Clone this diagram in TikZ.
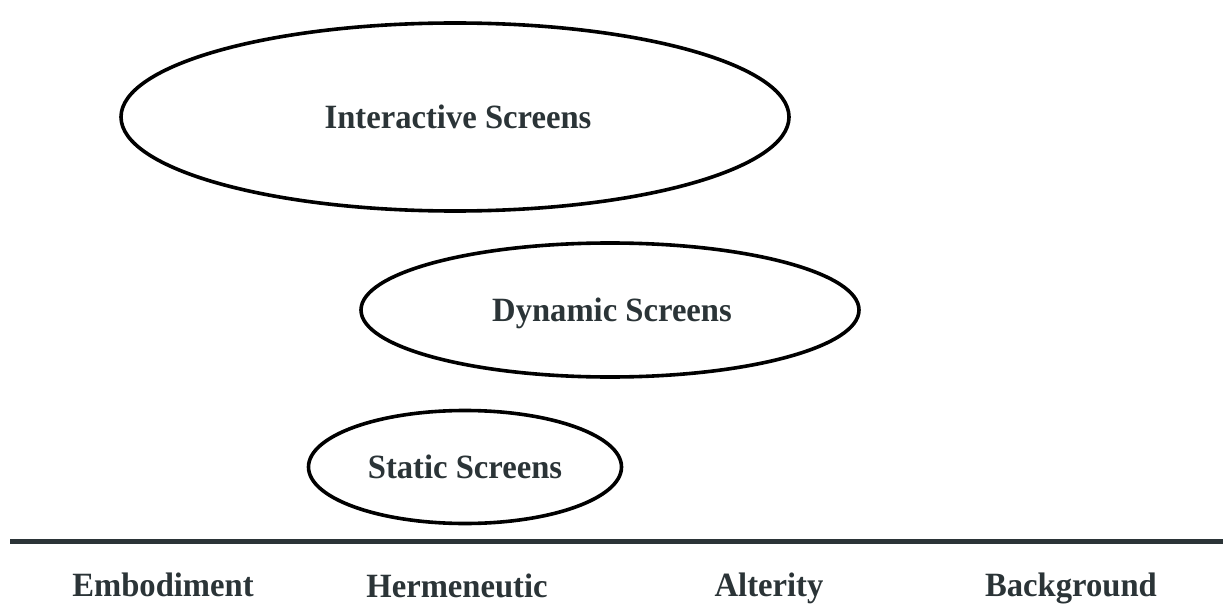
\documentclass[tikz,border=0pt]{standalone}
\usepackage{fontspec}
\setmainfont{Liberation Serif}[FakeStretch=0.96]
\usetikzlibrary{shapes.geometric}
\definecolor{ink}{HTML}{2B3437}
\tikzset{
  screen/.style={draw=black, line width=3.6pt, ellipse, inner sep=0pt},
  lbl/.style={text=ink, font=\bfseries\fontsize{34}{40}\selectfont, inner sep=0pt, anchor=base},
  axis/.style={draw=ink, line width=5pt}
}
\begin{document}
\begin{tikzpicture}[x=1pt,y=-1pt]
\useasboundingbox (0,0) rectangle (1223,604);
\node[screen, minimum width=668pt, minimum height=188pt] (inter) at (455,117) {};
\node[lbl] (interT) at (458,129) {Interactive Screens};
\node[screen, minimum width=498pt, minimum height=134pt] (dyn) at (610,310) {};
\node[lbl] (dynT) at (612,321) {Dynamic Screens};
\node[screen, minimum width=313pt, minimum height=113pt] (stat) at (465,467) {};
\node[lbl] (statT) at (465,478) {Static Screens};
\coordinate (axL) at (10,541);
\coordinate (axR) at (1223,541);
\draw[axis] (axL) -- (axR);
\node[lbl] (emb) at (163,596) {Embodiment};
\node[lbl] (her) at (457,597) {Hermeneutic};
\node[lbl] (alt) at (769,596) {Alterity};
\node[lbl] (bg) at (1071,596) {Background};
\end{tikzpicture}
\end{document}
